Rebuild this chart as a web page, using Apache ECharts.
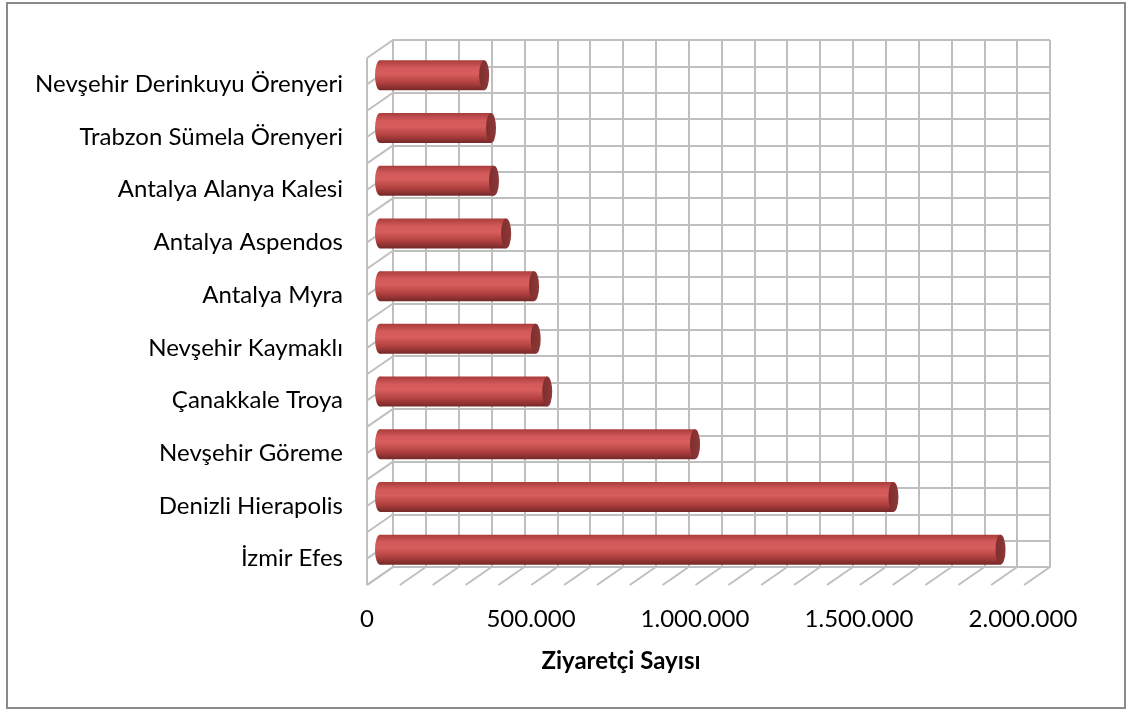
<!DOCTYPE html>
<html>
<head>
<meta charset="utf-8">
<script src="https://cdn.jsdelivr.net/npm/echarts@6/dist/echarts.min.js"></script>
<style>
  html, body { margin: 0; padding: 0; background: #fff; }
  #chart { width: 1134px; height: 713px; }
</style>
</head>
<body>
<div id="chart"></div>
<script>
// top to bottom, as in the chart
const sites = [
  'Nevşehir Derinkuyu Örenyeri',
  'Trabzon Sümela Örenyeri',
  'Antalya Alanya Kalesi',
  'Antalya Aspendos',
  'Antalya Myra',
  'Nevşehir Kaymaklı',
  'Çanakkale Troya',
  'Nevşehir Göreme',
  'Denizli Hierapolis',
  'İzmir Efes'
]
const visitors = [317000, 338000, 347000, 384000, 469000, 474000, 509000, 959000, 1563000, 1889000]
const xMax = 2000000
const gridStep = 100000
const labelStep = 500000
const rowLines = 20   // horizontal lines on the back wall

// oblique depth of the 3D box
const depth = [-26, 18]
const font = 'Lato, "Open Sans", sans-serif'
const gridColor = '#BFBFBF'

const fmt = v => String(v).replace(/\B(?=(\d{3})+(?!\d))/g, '.')

const chart = echarts.init(document.getElementById('chart'))

// floor and side wall lines, drawn from the back wall scales
const renderBox = (params, api) => {
  const children = []
  const line = (p) => ({
    type: 'line',
    shape: { x1: p[0], y1: p[1], x2: p[0] + depth[0], y2: p[1] + depth[1] },
    style: { stroke: gridColor, lineWidth: 2 }
  })
  for (let v = 0; v <= xMax; v += gridStep) children.push(line(api.coord([v, 0])))
  for (let j = 0; j <= rowLines; j++) children.push(line(api.coord([0, j])))
  const top = api.coord([0, rowLines])
  const bottom = api.coord([0, 0])
  children.push({
    type: 'line',
    shape: { x1: top[0] + depth[0], y1: top[1] + depth[1], x2: bottom[0] + depth[0], y2: bottom[1] + depth[1] },
    style: { stroke: gridColor, lineWidth: 2 }
  })
  return { type: 'group', children }
}

// cylinder bars
const renderBar = (params, api) => {
  const c = api.value(0)
  const v = api.value(1)
  const start = api.coord([0, c])
  const end = api.coord([v, c])
  const h = api.size([0, 1])[1] * 0.57
  const r = h / 2
  const rx = 5
  const body = new echarts.graphic.LinearGradient(0, 0, 0, 1, [
    { offset: 0, color: '#A93D3C' },
    { offset: 0.25, color: '#D3595A' },
    { offset: 0.45, color: '#D75E5C' },
    { offset: 0.75, color: '#B0403F' },
    { offset: 1, color: '#742828' }
  ])
  return {
    type: 'group',
    children: [
      {
        type: 'circle', x: start[0], y: start[1], scaleX: rx / r,
        shape: { cx: 0, cy: 0, r },
        style: { fill: body }
      },
      {
        type: 'rect',
        shape: { x: start[0], y: start[1] - r, width: end[0] - start[0], height: h },
        style: { fill: body }
      },
      {
        type: 'circle', x: end[0], y: end[1], scaleX: rx / r,
        shape: { cx: 0, cy: 0, r },
        style: {
          fill: new echarts.graphic.LinearGradient(0, 0, 1, 0, [
            { offset: 0, color: '#7E2E2E' },
            { offset: 1, color: '#8F3838' }
          ])
        }
      }
    ]
  }
}

chart.setOption({
  animation: false,
  backgroundColor: '#fff',
  textStyle: { fontFamily: font },
  graphic: [
    {
      type: 'rect',
      shape: { x: 7, y: 3, width: 1118, height: 705 },
      style: { fill: 'none', stroke: '#8A8A8A', lineWidth: 2 }
    },
    {
      type: 'text',
      x: 621, y: 661,
      style: {
        text: 'Ziyaretçi Sayısı', fontFamily: font, fontSize: 24, fontWeight: 'bold',
        fill: '#000', align: 'center', verticalAlign: 'middle'
      }
    }
  ],
  grid: [
    // back wall
    { left: 393, top: 40, width: 657, height: 527 },
    // middle depth, where the cylinders sit
    { left: 380, top: 49, width: 657, height: 527 },
    // front plane, for the labels
    { left: 367, top: 58, width: 656, height: 527 }
  ],
  xAxis: [
    {
      gridIndex: 0, type: 'value', min: 0, max: xMax, interval: gridStep,
      axisLine: { show: true, lineStyle: { color: gridColor, width: 2 } },
      axisTick: { show: false }, axisLabel: { show: false },
      splitLine: { show: true, lineStyle: { color: gridColor, width: 2 } }
    },
    {
      gridIndex: 1, type: 'value', min: 0, max: xMax,
      show: false
    },
    {
      gridIndex: 2, type: 'value', min: 0, max: xMax, interval: labelStep,
      axisLine: { show: false }, axisTick: { show: false }, splitLine: { show: false },
      axisLabel: { color: '#000', fontSize: 24, margin: 22, formatter: fmt }
    }
  ],
  yAxis: [
    {
      gridIndex: 0, type: 'value', min: 0, max: rowLines, interval: 1,
      axisLine: { show: true, lineStyle: { color: gridColor, width: 2 } },
      axisTick: { show: false }, axisLabel: { show: false },
      splitLine: { show: true, lineStyle: { color: gridColor, width: 2 } }
    },
    {
      gridIndex: 1, type: 'category', data: sites, inverse: true, show: false
    },
    {
      gridIndex: 2, type: 'category', data: sites, inverse: true,
      axisLine: { show: false }, axisTick: { show: false },
      axisLabel: { color: '#000', fontSize: 24, margin: 24 }
    }
  ],
  series: [
    {
      type: 'custom', xAxisIndex: 0, yAxisIndex: 0, clip: false, silent: true,
      renderItem: renderBox, data: [[0, 0]], z: 1
    },
    {
      type: 'custom', xAxisIndex: 1, yAxisIndex: 1, clip: false,
      encode: { x: 1, y: 0 },
      renderItem: renderBar,
      data: sites.map((s, i) => [i, visitors[i]]), z: 3
    }
  ]
})
</script>
</body>
</html>
